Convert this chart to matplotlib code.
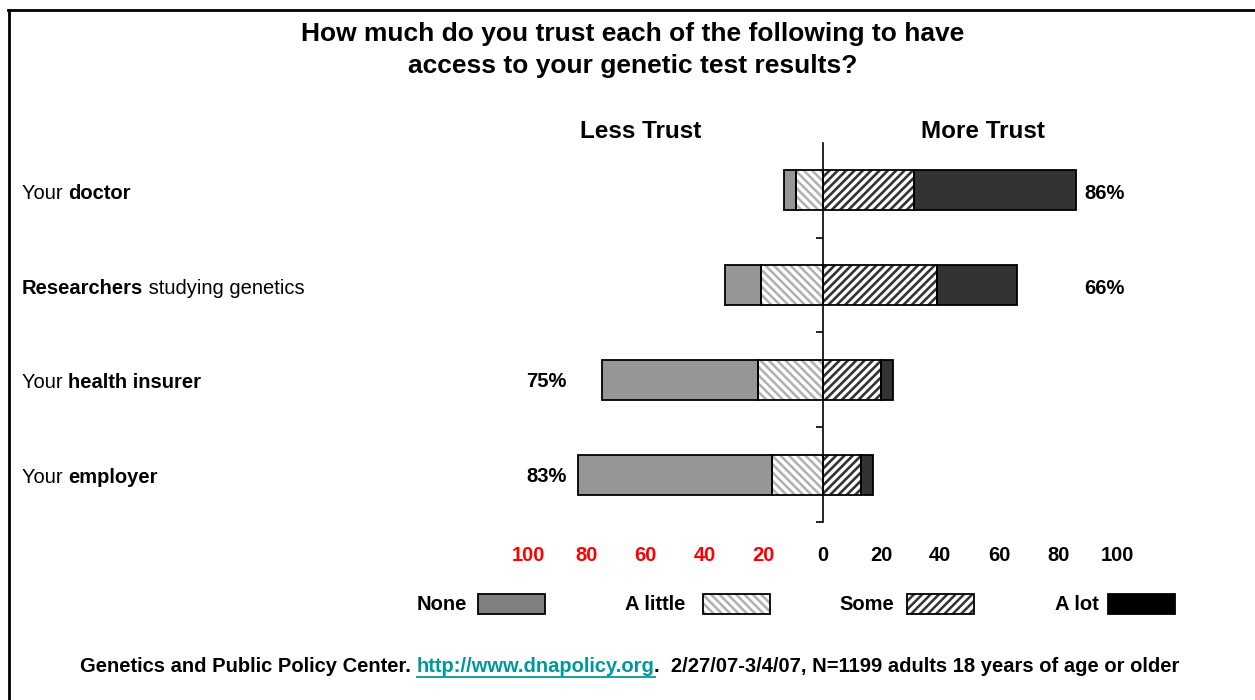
import matplotlib
matplotlib.use("Agg")
import matplotlib.pyplot as plt
from matplotlib.patches import Rectangle
from matplotlib.lines import Line2D

plt.rcParams['font.family'] = ['Liberation Sans', 'DejaVu Sans']

# data (percent of adults)
groups = ["doctor", "Researchers", "health insurer", "employer"]
none = [4, 12, 53, 66]
a_little = [9, 21, 22, 17]
some = [31, 39, 20, 13]
a_lot = [55, 27, 4, 4]
net_labels = ["86%", "66%", "75%", "83%"]
net_side = ["more", "more", "less", "less"]
tick_pos = [-100, -80, -60, -40, -20, 0, 20, 40, 60, 80, 100]
tick_text = ["100", "80", "60", "40", "20", "0", "20", "40", "60", "80", "100"]

W, H = 1255, 700
fig = plt.figure(figsize=(W / 100, H / 100), dpi=100)
renderer = fig.canvas.get_renderer()

ax = fig.add_axes([528 / W, 1 - 522 / H, (1117 - 528) / W, (522 - 143) / H])
ax.set_xlim(-100, 100)
ax.set_ylim(3.5, -0.5)
ax.patch.set_alpha(0)

ypos = list(range(len(groups)))
bh = 0.42


def hatched(left, width, face, hcolor, hatch, hlw):
    with plt.rc_context({'hatch.linewidth': hlw}):
        ax.barh(ypos, width, left=left, height=bh, color=face,
                edgecolor=hcolor, linewidth=0, hatch=hatch, zorder=2)
    ax.barh(ypos, width, left=left, height=bh, facecolor='none',
            edgecolor='black', linewidth=1.3, zorder=3)


neg_little = [-v for v in a_little]
neg_none = [-v for v in none]
hatched(0, neg_little, 'white', '#b0b0b0', '\\\\\\\\', 1.8)
hatched(neg_little, neg_none, '#969696', '#969696', None, 1.0)
hatched(0, some, 'white', '#333333', '////', 1.9)
hatched(some, a_lot, '#333333', '#333333', None, 1.0)

for spine in ['top', 'right', 'bottom']:
    ax.spines[spine].set_visible(False)
ax.spines['left'].set_position(('data', 0))
ax.spines['left'].set_linewidth(1.2)
ax.set_yticks([0.5, 1.5, 2.5, 3.5])
ax.set_yticklabels([])
ax.tick_params(axis='y', direction='out', length=5, width=1.2)
ax.set_xticks(tick_pos)
ax.set_xticklabels(tick_text, fontsize=14.5, fontweight='bold')
ax.tick_params(axis='x', length=0, pad=17)
for lab, p in zip(ax.get_xticklabels(), tick_pos):
    lab.set_color('#ff0000' if p < 0 else 'black')

for i, lab in enumerate(net_labels):
    if net_side[i] == "more":
        ax.annotate(lab, (89, i), xytext=(0, -3), textcoords='offset pixels',
                    ha='left', va='center', fontsize=14.5, fontweight='bold')
    else:
        ax.annotate(lab, (-87, i), xytext=(0, -2), textcoords='offset pixels',
                    ha='right', va='center', fontsize=14.5, fontweight='bold')


def rich(x_px, y_px, parts, size, center=False):
    # parts: list of (text, weight, color); placed side by side, pixels from top-left
    items = []
    for s, w, c in parts:
        t = fig.text(0, 1 - y_px / H, s, fontsize=size, fontweight=w, color=c,
                     va='center', ha='left')
        items.append(t)
    widths = [t.get_window_extent(renderer).width for t in items]
    x = x_px - sum(widths) / 2 if center else x_px
    out = []
    for t, w in zip(items, widths):
        t.set_x(x / W)
        out.append((x, w))
        x += w
    return out


cat_parts = [
    [("Your ", 'normal'), ("doctor", 'bold')],
    [("Researchers", 'bold'), (" studying genetics", 'normal')],
    [("Your ", 'normal'), ("health insurer", 'bold')],
    [("Your ", 'normal'), ("employer", 'bold')],
]
for i, parts in enumerate(cat_parts):
    ypix = H - ax.transData.transform((0, i))[1]
    rich(22, ypix + 3, [(s, w, 'black') for s, w in parts], 14.5)

fig.text(633 / W, 1 - 50 / H,
         "How much do you trust each of the following to have\naccess to your genetic test results?",
         ha='center', va='center', fontsize=19, fontweight='bold', linespacing=1.45)
fig.text(641 / W, 1 - 131 / H, "Less Trust", ha='center', va='center',
         fontsize=17.5, fontweight='bold')
fig.text(983 / W, 1 - 131 / H, "More Trust", ha='center', va='center',
         fontsize=17.5, fontweight='bold')

# legend
legend = [("None", 467, 478, '#808080', None, None),
          ("A little", 685, 703, 'white', '\\\\\\\\', '#b0b0b0'),
          ("Some", 894, 907, 'white', '////', '#333333'),
          ("A lot", 1099, 1108, 'black', None, None)]
for name, tx, bx, face, hatch, hc in legend:
    fig.text(tx / W, 1 - 604 / H, name, ha='right', va='center',
             fontsize=14.5, fontweight='bold')
    if hatch:
        with plt.rc_context({'hatch.linewidth': 1.8}):
            fig.add_artist(Rectangle((bx / W, 1 - 614 / H), 67 / W, 20 / H,
                                     transform=fig.transFigure, facecolor=face,
                                     edgecolor=hc, linewidth=0, hatch=hatch))
    fig.add_artist(Rectangle((bx / W, 1 - 614 / H), 67 / W, 20 / H,
                             transform=fig.transFigure,
                             facecolor=face if not hatch else 'none',
                             edgecolor='black', linewidth=1.3))

# footer
foot = rich(630, 667, [("Genetics and Public Policy Center. ", 'bold', 'black'),
                       ("http://www.dnapolicy.org", 'bold', '#009999'),
                       (".  2/27/07-3/4/07, N=1199 adults 18 years of age or older", 'bold', 'black')],
            14.5, center=True)
lx, lw = foot[1]
fig.add_artist(Line2D([lx / W, (lx + lw) / W], [1 - 677 / H, 1 - 677 / H],
                      transform=fig.transFigure, color='#009999', linewidth=1.3))

# frame edges visible in the picture
fig.add_artist(Line2D([9 / W, 9 / W], [0, 1 - 10 / H], transform=fig.transFigure,
                      color='black', linewidth=2))
fig.add_artist(Line2D([8 / W, 1], [1 - 10 / H, 1 - 10 / H], transform=fig.transFigure,
                      color='black', linewidth=2))

fig.savefig("out.png", dpi=100)
